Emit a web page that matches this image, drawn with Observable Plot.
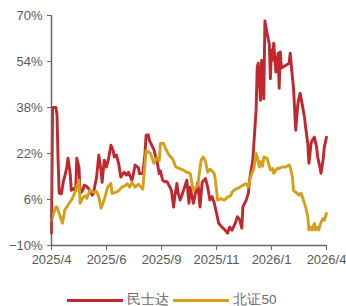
<!DOCTYPE html>
<html>
<head>
<meta charset="utf-8">
<script src="https://cdn.jsdelivr.net/npm/d3@7"></script>
<script src="https://cdn.jsdelivr.net/npm/@observablehq/plot@0.6"></script>
<style>
  html, body { margin: 0; padding: 0; background: #fff; overflow: hidden; }
  body { width: 346px; height: 306px; font-family: "Liberation Sans", Arial, sans-serif; }
  #legend { display: flex; justify-content: center; align-items: center; height: 20px; font-size: 13.5px; color: #6b6b6b; padding-left: 2px; }
  #legend .sw { display: inline-block; width: 56px; height: 3px; margin-right: 4px; }
  #legend .it { display: flex; align-items: center; margin-right: 4px; }
</style>
</head>
<body>
<div id="chart"></div>
<div id="legend"></div>
<script>
const seriesNames = ["民士达", "北证50"];
const seriesColors = ["#c1272d", "#d4a01c"];
const tickDays = [0, 50, 100, 150, 200, 250];
const tickLabels = ["2025/4", "2025/6", "2025/9", "2025/11", "2026/1", "2026/4"];
const yTicks = [-10, 6, 22, 38, 54, 70];

// 民士达 (trading-day index, %)
const redDay = [0,1,4,5,6,7,9,11,12,14,15,17,18,20,22,23,25,26,28,30,32,35,37,38,41,43,45,46,48,50,52,54,56,57,59,61,63,66,68,70,73,74,76,79,80,83,85,86,88,89,92,93,95,96,98,99,101,103,105,107,109,111,112,114,115,117,119,121,123,125,126,129,133,135,137,140,142,144,146,148,150,152,155,158,160,162,164,167,169,171,173,174,177,179,180,183,184,186,187,188,190,191,192,193,194,196,198,199,200,201,202,204,206,207,208,209,213,216,217,219,220,222,224,226,227,230,231,233,234,236,237,239,241,242,244,245,247,248,250];
const redVal = [-5.7,38,38,35.3,19.7,8.2,8,12.7,14,17.3,20.4,15,9.2,9.8,9,20.4,17.3,8.2,9,11,10.5,9.2,7.5,8,13.8,21.4,16.2,12,19.7,17.3,20.4,24.9,23.1,20.8,21.5,18.6,13.8,15.5,14.5,15.5,12.7,14,18,17,15,15,22,28.4,28.5,26.6,24.2,23.5,20.4,19,15,16,12.7,12.2,12.2,10.8,9.2,3.4,6.8,11.6,8.5,5.8,8,10.3,12.7,4.7,10.3,4.7,12,3.4,12,13.3,10.3,5.8,7,4.7,1.3,-2.3,-3.6,-4.7,-5.7,-3.6,-4.7,-2.3,0,-1,-4,3.4,5.8,8.2,12.7,19.7,25.5,37,52,53.4,40.5,54.4,50,41,68.1,63.8,60,48,58,54.5,60.4,50.3,56.9,44.7,57.3,51.7,52.7,53.4,56.9,48.6,45,30.1,39.4,43,41,34.6,31.2,25.5,18.6,25.5,26.6,27.7,24.2,20.8,17.3,15.1,20,24.2,27.7];

// 北证50 (trading-day index, %)
const goldDay = [0,2,4,5,8,10,12,14,16,19,22,25,26,29,31,32,35,38,41,43,45,48,51,54,55,58,61,64,67,69,71,73,76,79,83,86,88,90,93,96,98,99,102,104,107,110,113,116,120,123,126,129,133,136,138,140,142,144,146,148,149,151,154,157,160,163,164,167,170,174,177,179,181,184,186,187,189,190,192,193,196,198,199,201,202,205,207,210,213,216,217,219,220,223,225,227,229,231,233,234,236,237,239,240,242,243,245,247,248,250];
const goldVal = [-1.2,1.2,3.4,3.4,0,-2.3,2.3,3.5,4.7,6.4,9.2,12.7,4.7,6.9,7.3,6.4,9.2,8.5,8.8,6.9,3,6,10.3,11.6,8.1,8.5,9,10.3,10.8,11.5,10.3,12,10.3,11.3,9.6,23,22.5,22,18.6,20.5,19.5,25.5,25.5,23.5,21.4,20.2,17.3,16.8,16.2,15.5,15.1,9.2,11,19.7,20.8,19.2,15.5,16.5,16,15,12.7,5.8,6.3,5.8,6.8,7.3,8.5,9.5,10,11,11.5,10.3,13.8,16.8,22,20.8,17.3,19.2,17.6,20.8,20.3,17.6,16.2,16.8,15.1,16.8,16.8,17.3,17.3,18,17.3,13.8,9.2,8.2,7.5,8.2,5.8,3.4,0,-4.6,-3.6,-4.6,-2.3,-4.6,-3.6,-4.6,-1.9,-0.6,-1.2,1.2];

const red = redDay.map((d, i) => ({day: d, v: redVal[i]}));
const gold = goldDay.map((d, i) => ({day: d, v: goldVal[i]}));
const axisColor = "#666666";
const textColor = "#595959";

const chart = Plot.plot({
  width: 346,
  height: 290,
  marginLeft: 51,
  marginRight: 20,
  marginTop: 15,
  marginBottom: 45,
  style: {fontFamily: "'Liberation Sans', Arial, sans-serif", fontSize: "13px", color: textColor, background: "#fff"},
  x: {domain: [0, 250]},
  y: {domain: [-10, 70]},
  marks: [
    Plot.axisY({ticks: yTicks, tickFormat: d => (d < 0 ? "\u2212" + Math.abs(d) : d) + "%", tickSize: 4, tickPadding: 5, stroke: axisColor, fill: textColor, label: null, fontSize: 13}),
    Plot.axisX({ticks: tickDays, tickFormat: d => tickLabels[tickDays.indexOf(d)], tickSize: 5, tickPadding: 4, stroke: axisColor, fill: textColor, label: null, fontSize: 13}),
    Plot.line(red, {x: "day", y: "v", stroke: seriesColors[0], strokeWidth: 2.9, strokeLinejoin: "round"}),
    Plot.line(gold, {x: "day", y: "v", stroke: seriesColors[1], strokeWidth: 2.9, strokeLinejoin: "round"}),
    Plot.ruleX([0], {stroke: axisColor, strokeWidth: 1.5}),
    Plot.ruleY([-10], {stroke: axisColor, strokeWidth: 1.5})
  ]
});
document.getElementById("chart").appendChild(chart);

const legend = document.getElementById("legend");
seriesNames.forEach((name, i) => {
  const it = document.createElement("span");
  it.className = "it";
  const sw = document.createElement("span");
  sw.className = "sw";
  sw.style.background = seriesColors[i];
  it.appendChild(sw);
  const t = document.createElement("span");
  t.textContent = name;
  it.appendChild(t);
  legend.appendChild(it);
});
</script>
</body>
</html>
